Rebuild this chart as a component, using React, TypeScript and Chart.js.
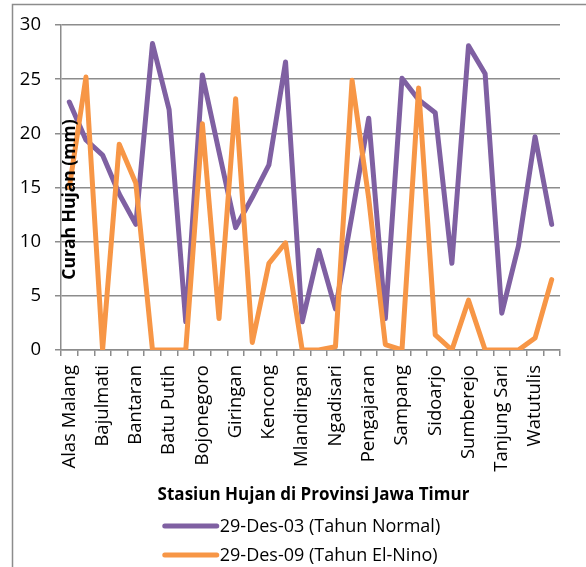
import React, { useEffect, useRef } from "react";
import { Chart, registerables } from "chart.js";

Chart.register(...registerables);

const shownStations = [
  "Alas Malang", "Bajulmati", "Bantaran", "Batu Putih", "Bojonegoro",
  "Giringan", "Kencong", "Mlandingan", "Ngadisari", "Pengajaran",
  "Sampang", "Sidoarjo", "Sumberejo", "Tanjung Sari", "Watutulis",
];

const normal2003 = [
  22.9, 19.4, 18.0, 14.4, 11.6, 28.3, 22.2, 2.6, 25.4, 18.3,
  11.3, 14.1, 17.1, 26.6, 2.6, 9.2, 3.8, 12.5, 21.4, 2.9,
  25.1, 23.1, 21.9, 8.0, 28.1, 25.5, 3.4, 9.6, 19.7, 11.6,
];

const elNino2009 = [
  15.0, 25.2, 0, 19.0, 15.4, 0, 0, 0, 20.9, 2.9,
  23.2, 0.7, 8.0, 9.9, 0, 0, 0.3, 24.9, 14.0, 0.5,
  0, 24.2, 1.4, 0, 4.6, 0, 0, 0, 1.1, 6.5,
];

const yTicks = [0, 5, 10, 15, 20, 25, 30];

const seriesNames = ["29-Des-03 (Tahun Normal)", "29-Des-09 (Tahun El-Nino)"];
const seriesColors = ["#7F60A2", "#F79646"];
const yTitle = "Curah Hujan (mm)";
const xTitle = "Stasiun Hujan di Provinsi Jawa Timur";

// every other category carries a visible label
const categories: string[] = normal2003.map((_, i) =>
  i % 2 === 0 ? shownStations[i / 2] : ""
);

const FONT = "'Open Sans', 'Noto Sans', sans-serif";
const GRID = "#8c8c8c";

const decorPlugin = {
  id: "decor",
  beforeDraw(chart: any) {
    const ctx = chart.ctx;
    ctx.save();
    ctx.fillStyle = "#ffffff";
    ctx.fillRect(0, 0, chart.width, chart.height);
    ctx.strokeStyle = GRID;
    ctx.lineWidth = 1.5;
    ctx.strokeRect(12.5, 4.5, chart.width + 50, chart.height + 50);
    ctx.restore();
  },
  afterDraw(chart: any) {
    const ctx = chart.ctx;
    const area = chart.chartArea;
    ctx.save();
    // y axis title (inside plot, as in the original)
    ctx.translate(area.left + 9, (area.top + area.bottom) / 2 + 12);
    ctx.rotate(-Math.PI / 2);
    ctx.font = `bold 17.5px ${FONT}`;
    ctx.fillStyle = "#000";
    ctx.textAlign = "center";
    ctx.textBaseline = "middle";
    ctx.fillText(yTitle, 0, 0);
    ctx.restore();

    ctx.save();
    const cx = (area.left + area.right) / 2 + 3;
    ctx.font = `bold 17px ${FONT}`;
    ctx.fillStyle = "#000";
    ctx.textAlign = "center";
    ctx.textBaseline = "middle";
    ctx.fillText(xTitle, cx, area.bottom + 145);

    ctx.font = `18px ${FONT}`;
    const tw = Math.max(...seriesNames.map((s) => ctx.measureText(s).width));
    const lineLen = 54;
    const gap = 3;
    const blockW = lineLen + gap + tw;
    const x0 = cx - 12 - blockW / 2;
    seriesNames.forEach((name, i) => {
      const y = area.bottom + 176 + i * 29;
      ctx.strokeStyle = seriesColors[i];
      ctx.lineWidth = 5;
      ctx.lineCap = "round";
      ctx.beginPath();
      ctx.moveTo(x0 + 2, y);
      ctx.lineTo(x0 + lineLen, y);
      ctx.stroke();
      ctx.fillStyle = "#000";
      ctx.textAlign = "left";
      ctx.fillText(name, x0 + lineLen + gap, y + 1);
    });
    ctx.restore();
  },
};

export default function App() {
  const ref = useRef<HTMLCanvasElement | null>(null);

  useEffect(() => {
    if (!ref.current) return;
    const chart = new Chart(ref.current, {
      type: "line",
      data: {
        labels: categories,
        datasets: [
          {
            label: seriesNames[0],
            data: normal2003,
            borderColor: seriesColors[0],
            backgroundColor: seriesColors[0],
            borderWidth: 5,
            pointRadius: 0,
            tension: 0,
            borderJoinStyle: "round",
            borderCapStyle: "round",
            order: 1,
          },
          {
            label: seriesNames[1],
            data: elNino2009,
            borderColor: seriesColors[1],
            backgroundColor: seriesColors[1],
            borderWidth: 5,
            pointRadius: 0,
            tension: 0,
            borderJoinStyle: "round",
            borderCapStyle: "round",
            order: 0,
          },
        ],
      },
      options: {
        responsive: false,
        animation: false,
        layout: { padding: { left: 0, top: 23, right: 26, bottom: 0 } },
        plugins: {
          legend: { display: false },
          tooltip: { enabled: false },
          title: { display: false },
        },
        scales: {
          x: {
            type: "category",
            offset: true,
            grid: {
              offset: true,
              drawOnChartArea: false,
              drawTicks: true,
              tickLength: 6,
              color: GRID,
              lineWidth: 1.5,
            },
            border: { display: true, color: GRID, width: 1.5 },
            ticks: {
              autoSkip: false,
              maxRotation: 90,
              minRotation: 90,
              padding: 9,
              color: "#000",
              font: { family: FONT, size: 18.5 },
            },
            afterFit: (scale: any) => {
              scale.height = 217;
            },
          },
          y: {
            min: 0,
            max: 30,
            afterBuildTicks: (scale: any) => {
              scale.ticks = yTicks.map((v) => ({ value: v }));
            },
            grid: {
              color: GRID,
              lineWidth: 1.5,
              drawTicks: true,
              tickLength: 6,
            },
            border: { display: true, color: GRID, width: 1.5 },
            ticks: {
              padding: 14,
              color: "#000",
              font: { family: FONT, size: 18.5 },
            },
            afterFit: (scale: any) => {
              scale.width = 61;
            },
          },
        },
      },
      plugins: [decorPlugin],
    });
    return () => chart.destroy();
  }, []);

  return (
    <div style={{ position: "fixed", left: 0, top: 0, width: 586, height: 567, background: "#fff" }}>
      <canvas ref={ref} width={586} height={567} style={{ width: 586, height: 567, display: "block" }} />
    </div>
  );
}
